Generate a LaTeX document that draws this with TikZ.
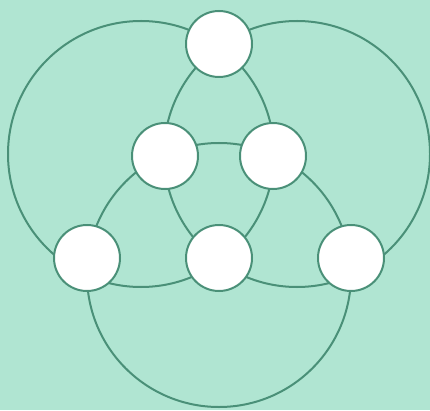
\documentclass[tikz,border=0pt]{standalone}
\usepackage{tikz}
\definecolor{mint}{RGB}{176,229,210}
\definecolor{ringline}{RGB}{74,144,120}

\begin{document}
\begin{tikzpicture}[
      x=1pt, y=1pt,
      spot/.style={
        circle,
        draw=ringline, line width=2pt,
        fill=white,
        minimum size=66pt,
        inner sep=0pt
      },
      ring/.style={
        draw=ringline, line width=2pt
      }
    ]
      \fill[mint] (0,0) rectangle (430,410);
      \useasboundingbox (0,0) rectangle (430,410);
      \coordinate (leftring) at (141,256);
      \coordinate (rightring) at (297,256);
      \coordinate (lowring) at (219,135);
      \draw[ring] (leftring) circle[radius=133pt];
      \draw[ring] (rightring) circle[radius=133pt];
      \draw[ring] (lowring) circle[radius=132pt];
      \node[spot] (top) at (219,366) {};
      \node[spot] (midleft) at (165,254) {};
      \node[spot] (midright) at (273,254) {};
      \node[spot] (lowleft) at (87,152) {};
      \node[spot] (lowmid) at (219,152) {};
      \node[spot] (lowright) at (351,152) {};
    \end{tikzpicture}
\end{document}
